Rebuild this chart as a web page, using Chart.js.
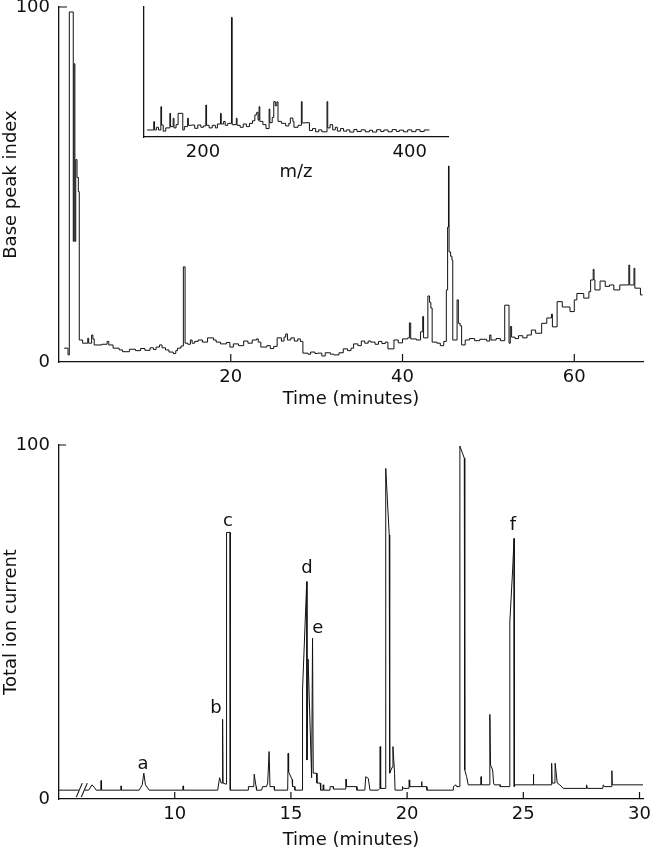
<!DOCTYPE html>
<html>
<head>
<meta charset="utf-8">
<title>Base peak and total ion chromatograms</title>
<script src="https://cdn.jsdelivr.net/npm/chart.js@4.4.1/dist/chart.umd.min.js"></script>
<style>
  html, body { margin: 0; padding: 0; background: #fff; }
  #wrap { position: relative; width: 654px; height: 853px; overflow: hidden; }
  canvas { position: absolute; left: 0; }
  #topChart, #insetChart { top: 0; }
  #bottomChart { top: 430px; }
</style>
</head>
<body>
<div id="wrap">
  <canvas id="topChart" width="654" height="420"></canvas>
  <canvas id="insetChart" width="654" height="200"></canvas>
  <canvas id="bottomChart" width="654" height="423"></canvas>
</div>
<script>
// upper trace: [time (min), base peak index], each value held until the next scan
const topTrace = [
  [0.6, 3.9], [1.05, 2.0], [1.2, 98.6], [1.66, 34], [1.75, 84], [1.85, 34], [1.95, 57], [2.1, 52], [2.25, 48],
  [2.36, 6.2], [2.75, 5.3], [3.35, 6.7], [3.45, 5.3], [3.8, 7.6], [3.95, 6.5], [4.1, 4.8], [5.0, 5.0],
  [5.6, 5.8], [5.8, 4.8], [6.3, 3.9], [7.0, 3.4], [7.4, 2.9], [8.2, 3.6], [8.9, 3.2], [9.5, 3.8],
  [10.0, 3.3], [10.6, 4.0], [11.0, 3.5], [11.3, 4.2], [11.7, 4.8], [12.0, 4.0], [12.4, 3.4], [12.8, 2.8],
  [13.3, 2.4], [13.6, 3.2], [13.8, 3.9], [14.2, 4.5], [14.48, 26.8], [14.68, 5.3], [15.0, 5.0], [15.3, 6.2],
  [15.5, 5.3], [15.8, 5.8], [16.2, 6.2], [16.7, 5.6], [17.3, 6.8], [18.0, 6.2], [18.3, 5.6], [18.8, 5.1],
  [19.5, 5.5], [19.9, 4.2], [20.3, 5.1], [20.9, 4.6], [21.5, 5.9], [22.0, 5.3], [22.5, 6.2], [23.0, 6.5],
  [23.2, 5.6], [23.5, 4.2], [24.2, 4.6], [24.6, 3.8], [25.0, 4.4], [25.4, 6.8], [25.9, 5.9], [26.2, 7.0],
  [26.4, 7.9], [26.6, 6.2], [27.0, 6.8], [27.4, 5.9], [27.8, 6.5], [28.1, 5.8], [28.4, 2.5], [29.0, 2.2],
  [29.3, 2.8], [29.8, 2.4], [30.1, 2.5], [30.6, 1.7], [31.0, 2.6], [31.6, 2.2], [32.0, 2.0], [32.6, 2.6],
  [33.1, 3.7], [33.6, 3.2], [34.0, 3.9], [34.3, 5.1], [34.8, 4.6], [35.2, 5.9], [35.6, 5.3], [36.0, 5.9],
  [36.3, 5.6], [36.8, 5.0], [37.2, 5.8], [37.6, 5.2], [38.0, 5.6], [38.3, 3.7], [39.0, 6.2], [39.5, 5.4],
  [40.0, 6.5], [40.6, 6.8], [40.8, 11.0], [40.95, 6.5], [41.6, 6.2], [42.1, 8.5], [42.35, 12.8], [42.45, 6.8],
  [42.95, 18.6], [43.15, 16.8], [43.3, 15.2], [43.45, 5.6], [44.0, 5.3], [44.4, 4.6], [44.8, 5.8],
  [45.1, 20.3], [45.25, 38], [45.35, 55.2], [45.42, 31], [45.6, 29.8], [45.75, 28.7], [45.85, 6.2],
  [46.35, 17.5], [46.5, 10.9], [46.7, 10.2], [46.88, 4.8], [47.3, 6.2], [47.8, 6.6], [48.4, 6.0], [49.0, 6.4],
  [49.8, 5.9], [50.15, 7.6], [50.3, 6.2], [50.9, 6.6], [51.4, 6.0], [51.9, 16.0], [52.4, 5.3], [52.55, 10.0],
  [52.7, 7.0], [53.1, 6.6], [53.5, 7.4], [54.0, 6.8], [54.5, 7.6], [55.0, 9.0], [55.5, 8.1], [56.2, 10.9],
  [56.8, 12.4], [57.35, 13.5], [57.45, 9.9], [58.0, 17.0], [58.6, 15.5], [59.5, 14.2], [60.0, 17.5],
  [60.3, 19.3], [61.1, 18.0], [61.7, 19.8], [61.9, 23.1], [62.2, 26.1], [62.3, 23.1], [62.4, 20.3],
  [63.0, 22.8], [63.6, 21.3], [64.1, 21.7], [64.6, 20.3], [65.3, 21.7], [66.35, 27.3], [66.45, 21.7],
  [66.95, 26.4], [67.05, 20.8], [67.7, 18.9], [67.95, 18.9]
];
const topTimeTicks = [20, 40, 60];

// inset mass spectrum: [m/z, relative intensity]
const insetSpectrum = [
  [146, 5.4], [152.4, 11.8], [153.2, 5.4], [155, 7.5], [157, 5.4], [159.3, 23.3], [160, 9.2], [161.6, 4.5],
  [164, 7], [168, 18.2], [168.7, 8], [171.2, 14.4], [172, 7], [174, 9.5], [176, 18.2], [180.5, 5.4],
  [182, 8], [185.2, 14.4], [185.9, 9], [189, 9.2], [192, 6.7], [195, 9.2], [198, 7.5], [200.5, 8.5],
  [202.8, 24.6], [203.5, 9], [206, 7], [209, 9], [212, 7], [214, 10], [217, 18.2], [217.7, 10],
  [220, 12], [221.5, 9], [224, 10.5], [227.6, 92], [228.3, 9.5], [232.3, 14.4], [233, 9], [236, 7.5],
  [239, 10], [242, 8], [245, 10.5], [248, 12.5], [250.2, 17], [252, 19], [253.3, 13], [254.3, 23.3],
  [255, 12], [258, 9.5], [261, 6.5], [264, 21.5], [264.7, 11], [267, 15], [268.5, 27.2], [270, 24],
  [271.5, 27], [272.6, 12], [276, 10.5], [280, 8.5], [283, 10.5], [284.5, 14.6], [287, 12], [288, 7.5],
  [292, 9], [295.2, 27.2], [295.9, 10.8], [299, 11], [303, 5], [306, 6.5], [309, 4], [312, 5.5],
  [315, 4], [320, 27.2], [320.7, 7], [323, 9.5], [325.5, 5.5], [328, 7.5], [330, 4.5], [333, 6.5],
  [336, 4.5], [339, 5.5], [342, 3.8], [346, 5.8], [349, 4.2], [353, 5.5], [357, 4], [361, 5.2],
  [364, 3.8], [368, 5.6], [372, 4.2], [375, 5.4], [379, 4], [383, 5.7], [387, 4.3], [390, 5.3],
  [394, 4], [398, 5.5], [402, 4.1], [406, 5.6], [410, 4.2], [414, 5.4], [419, 5.4]
];
const insetMzTicks = [200, 400];

// lower trace: [time (min), total ion current]
const bottomTrace = [
  [5.02, 2.5], [6.3, 2.5], [6.44, 4.0], [6.55, 3.2], [6.62, 2.5], [6.82, 2.5], [6.83, 5.2], [6.85, 2.5],
  [7.68, 2.5], [7.69, 3.7], [7.71, 2.5], [8.47, 2.5], [8.6, 4.0], [8.67, 7.3], [8.74, 4.0], [8.9, 2.5],
  [10.35, 2.5], [10.36, 3.7], [10.38, 2.5], [11.85, 2.5], [11.93, 6.0], [12.0, 4.5], [12.05, 4.5],
  [12.06, 22.5], [12.08, 4.5], [12.2, 4.2], [12.22, 4.2], [12.23, 75.3], [12.38, 75.3], [12.39, 2.5],
  [13.16, 2.5], [13.17, 3.5], [13.4, 3.5], [13.42, 7.0], [13.5, 3.5], [13.52, 2.5], [13.74, 2.5],
  [13.78, 3.5], [13.95, 3.5], [14.0, 4.5], [14.06, 13.4], [14.1, 3.5], [14.28, 3.5], [14.29, 2.5],
  [14.86, 2.5], [14.88, 12.9], [14.9, 7.7], [15.05, 5.5], [15.07, 3.5], [15.16, 3.5], [15.17, 2.5],
  [15.49, 2.5], [15.5, 30.8], [15.68, 61.4], [15.69, 11.0], [15.74, 39.5], [15.89, 6.0], [15.93, 45.4],
  [15.96, 7.3], [16.1, 7.3], [16.12, 4.5], [16.26, 4.5], [16.28, 2.5], [16.38, 2.5], [16.39, 4.0],
  [16.41, 2.5], [16.68, 2.5], [16.69, 3.5], [16.82, 3.5], [16.83, 2.8], [17.36, 2.8], [17.37, 5.6],
  [17.39, 3.5], [17.83, 3.5], [17.84, 2.5], [18.18, 2.5], [18.22, 6.3], [18.33, 5.8], [18.4, 2.5],
  [18.76, 2.5], [18.83, 3.0], [18.84, 14.8], [18.86, 3.0], [19.05, 3.0], [19.08, 93.4], [19.23, 74.6],
  [19.25, 7.3], [19.36, 9.0], [19.39, 14.8], [19.46, 7.3], [19.48, 2.5], [19.79, 2.5], [19.8, 3.5],
  [19.84, 3.0], [20.08, 3.0], [20.09, 5.4], [20.11, 3.5], [20.6, 3.5], [20.62, 4.9], [20.64, 3.5],
  [20.84, 3.5], [20.85, 2.5], [21.98, 2.5], [21.99, 3.5], [22.1, 4.0], [22.13, 3.5], [22.26, 3.5],
  [22.27, 99.7], [22.46, 96.3], [22.48, 8.2], [22.56, 6.3], [22.63, 4.0], [23.17, 4.0], [23.18, 6.3],
  [23.2, 4.0], [23.55, 4.0], [23.56, 23.9], [23.59, 9.6], [23.68, 8.2], [23.72, 4.5], [23.75, 4.0],
  [24.0, 4.0], [24.01, 3.5], [24.41, 3.5], [24.42, 50], [24.54, 64.7], [24.6, 73.6], [24.61, 3.5],
  [24.65, 4.0], [25.42, 4.0], [25.43, 7.0], [25.45, 4.0], [26.21, 4.0], [26.22, 10.1], [26.24, 4.5],
  [26.36, 4.5], [26.37, 10.1], [26.46, 4.5], [26.57, 4.0], [26.72, 3.0], [27.7, 3.0], [27.72, 4.0],
  [27.76, 3.0], [28.42, 3.0], [28.44, 4.0], [28.48, 3.5], [28.8, 3.5], [28.81, 8.0], [28.83, 4.0],
  [30.15, 4.0]
];
const bottomTimeTicks = [10, 15, 20, 25, 30];
const peakNames = ['a', 'b', 'c', 'd', 'e', 'f'];
const peakNameTime = [8.63, 11.77, 12.29, 15.69, 16.16, 24.55];
const peakNameLevel = [9.9, 25.7, 78.5, 65.3, 48.3, 77.4];
const breakTime = 6.0;
const breakLevel = 2.5;
const percentTicks = [0, 100];

const INK = '#111';
Chart.defaults.font.family = "'DejaVu Sans', sans-serif";
Chart.defaults.font.size = 18;
Chart.defaults.color = INK;

function points(pairs) {
    return pairs.map(p => ({ x: p[0], y: p[1] }));
}

function fixedTicks(values) {
    return scale => { scale.ticks = values.map(v => ({ value: v })); };
}

function xAxis(min, max, ticks, title, height) {
    return {
        type: 'linear', min: min, max: max,
        afterBuildTicks: fixedTicks(ticks),
        afterFit: s => { s.height = height; s.paddingLeft = 0; s.paddingRight = 0; },
        grid: { display: false, drawTicks: false },
        border: { display: true, color: INK, width: 1.3 },
        ticks: { padding: 5, maxRotation: 0, autoSkip: false },
        title: { display: true, text: title, padding: 0 }
    };
}

function yAxis(ticks, title, width) {
    return {
        type: 'linear', min: 0, max: 100,
        afterBuildTicks: fixedTicks(ticks),
        afterFit: s => { s.width = width; s.paddingTop = 0; s.paddingBottom = 0; },
        grid: { display: false, drawTicks: false },
        border: { display: true, color: INK, width: 1.3 },
        ticks: { display: ticks.length > 0, padding: 9 },
        title: { display: !!title, text: title, padding: { top: 1, bottom: 0 } }
    };
}

// tick marks drawn inward from the axes
function innerTicks(xVals, yVals, len) {
    return {
        id: 'innerTicks',
        afterDraw(chart) {
            const { ctx, chartArea, scales } = chart;
            ctx.save();
            ctx.strokeStyle = INK;
            ctx.lineWidth = 1.2;
            ctx.beginPath();
            xVals.forEach(v => {
                const px = scales.x.getPixelForValue(v);
                ctx.moveTo(px, chartArea.bottom);
                ctx.lineTo(px, chartArea.bottom - len);
            });
            yVals.forEach(v => {
                const py = scales.y.getPixelForValue(v);
                ctx.moveTo(chartArea.left, py);
                ctx.lineTo(chartArea.left + len, py);
            });
            ctx.stroke();
            ctx.restore();
        }
    };
}

const peakLetters = {
    id: 'peakLetters',
    afterDatasetsDraw(chart) {
        const { ctx, scales } = chart;
        ctx.save();
        ctx.fillStyle = INK;
        ctx.font = "18px 'DejaVu Sans', sans-serif";
        ctx.textAlign = 'center';
        ctx.textBaseline = 'middle';
        peakNames.forEach((name, i) => {
            ctx.fillText(name, scales.x.getPixelForValue(peakNameTime[i]), scales.y.getPixelForValue(peakNameLevel[i]));
        });
        ctx.restore();
    }
};

const axisBreak = {
    id: 'axisBreak',
    afterDatasetsDraw(chart) {
        const { ctx, scales } = chart;
        const px = scales.x.getPixelForValue(breakTime);
        const py = scales.y.getPixelForValue(breakLevel);
        ctx.save();
        ctx.fillStyle = '#fff';
        ctx.fillRect(px - 3, py - 2, 6, 4);
        ctx.strokeStyle = INK;
        ctx.lineWidth = 1.1;
        ctx.beginPath();
        ctx.moveTo(px - 5.5, py + 7); ctx.lineTo(px + 0.5, py - 7);
        ctx.moveTo(px - 0.5, py + 7); ctx.lineTo(px + 5.5, py - 7);
        ctx.stroke();
        ctx.restore();
    }
};

function trace(pairs, stepped) {
    return {
        data: points(pairs),
        borderColor: INK,
        borderWidth: 1,
        pointRadius: 0,
        fill: false,
        tension: 0,
        stepped: stepped
    };
}

const baseOptions = {
    responsive: false,
    animation: false,
    events: [],
    plugins: { legend: { display: false }, tooltip: { enabled: false } }
};

new Chart(document.getElementById('topChart'), {
    type: 'line',
    data: { datasets: [trace(topTrace, 'before')] },
    options: Object.assign({}, baseOptions, {
        layout: { padding: { left: 0, top: 7, right: 11, bottom: 10 } },
        scales: {
            x: xAxis(0, 68, topTimeTicks, 'Time (minutes)', 48),
            y: yAxis(percentTicks, 'Base peak index', 59)
        }
    }),
    plugins: [innerTicks(topTimeTicks, [100], 8)]
});

new Chart(document.getElementById('insetChart'), {
    type: 'line',
    data: { datasets: [trace(insetSpectrum, 'before')] },
    options: Object.assign({}, baseOptions, {
        layout: { padding: { left: 0, top: 7, right: 206, bottom: 17 } },
        scales: {
            x: xAxis(143, 437, insetMzTicks, 'm/z', 46),
            y: yAxis([], '', 144)
        }
    })
});

new Chart(document.getElementById('bottomChart'), {
    type: 'line',
    data: { datasets: [trace(bottomTrace, false)] },
    options: Object.assign({}, baseOptions, {
        layout: { padding: { left: 0, top: 15, right: 11, bottom: 2 } },
        scales: {
            x: xAxis(5.02, 30.15, bottomTimeTicks, 'Time (minutes)', 52),
            y: yAxis(percentTicks, 'Total ion current', 59)
        }
    }),
    plugins: [innerTicks(bottomTimeTicks, [100], 7), peakLetters, axisBreak]
});
</script>
</body>
</html>
